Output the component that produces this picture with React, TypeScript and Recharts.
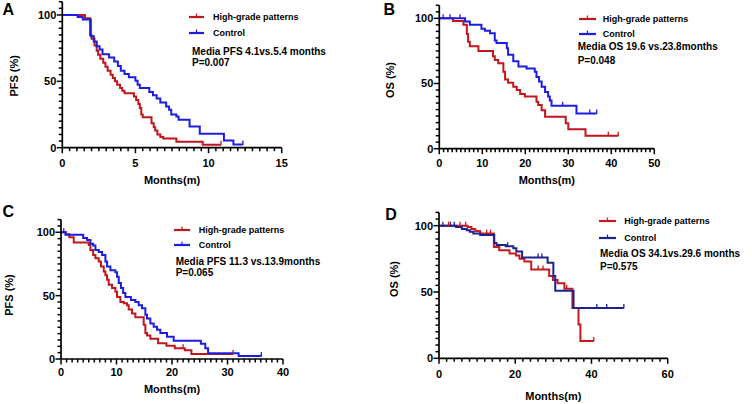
import React from 'react';
import { LineChart, Line, XAxis, YAxis, Legend } from 'recharts';

const W = 752;
const H = 404;
const FONT = '"Liberation Sans", Arial, Helvetica, sans-serif';

// ---------- DATA ----------
const seriesNames = ['High-grade patterns', 'Control'];
const panelLetters = ['A', 'B', 'C', 'D'];
const yTitles = ['PFS (%)', 'OS (%)', 'PFS (%)', 'OS (%)'];
const xTitle = 'Months(m)';
const medianLines = [
  'Media PFS 4.1vs.5.4 months',
  'Media OS 19.6 vs.23.8months',
  'Media PFS 11.3 vs.13.9months',
  'Media OS 34.1vs.29.6 months',
];
const pValues = ['P=0.007', 'P=0.048', 'P=0.065', 'P=0.575'];

const yMajorTicks = [0, 50, 100];
const aXTicks = [0, 5, 10, 15];
const bXTicks = [0, 10, 20, 30, 40, 50];
const cXTicks = [0, 10, 20, 30, 40];
const dXTicks = [0, 20, 40, 60];

// Panel A (PFS)
const aHighT = [0, 1.55, 1.9, 2.0, 2.2, 2.35, 2.45, 2.6, 2.8, 2.95, 3.1, 3.3, 3.45, 3.6, 3.75, 3.95, 4.1, 4.25, 4.9, 5.05, 5.2, 5.3, 5.4, 5.5, 6.1, 6.25, 6.35, 6.5, 6.7, 6.9, 7.8, 9.6];
const aHighS = [100, 97.5, 85, 82, 77, 73, 70, 67, 64, 61, 58, 55, 52.5, 50, 47.5, 45, 43, 41, 38.5, 36, 33, 30, 25, 23, 18.5, 15.5, 13, 10, 8, 7, 4.5, 2.3];
const aHighCens = [10.85];
const aCtrlT = [0, 1.05, 1.4, 1.95, 2.15, 2.35, 2.55, 2.75, 3.2, 3.55, 3.8, 4.0, 4.25, 4.55, 5.0, 5.15, 5.3, 5.95, 6.2, 6.45, 6.7, 7.1, 7.3, 7.45, 7.8, 7.95, 8.7, 9.4, 11.05, 11.7];
const aCtrlS = [100, 98.5, 96.5, 84, 80, 76.5, 74, 70.5, 68, 65, 61.5, 58, 55.5, 53, 50.5, 47.5, 45, 42, 39.5, 37, 34, 31, 28.5, 25, 23.5, 21, 16, 10.5, 5.5, 2.5];
const aCtrlCens = [12.35];

// Panel B (OS)
const bHighT = [0, 3.2, 5.6, 6.4, 6.7, 7.1, 9.1, 12.5, 12.9, 13.7, 14.9, 15.3, 16.0, 17.2, 18.0, 18.8, 19.9, 22.6, 23.0, 23.8, 24.6, 29.4, 30.0, 34.0];
const bHighS = [100, 98, 95, 88, 82, 78.5, 75, 71, 68, 65.5, 59, 53, 50.5, 47.5, 45, 42, 40, 36, 33.5, 29.5, 24.5, 19.5, 15, 10];
const bHighCens = [39.3, 41.6];
const bCtrlT = [0, 6.0, 7.1, 9.8, 10.6, 11.8, 12.9, 13.3, 15.7, 16.0, 17.2, 18.4, 20.3, 22.2, 22.6, 23.2, 23.8, 24.6, 25.3, 25.7, 26.1, 31.9];
const bCtrlS = [100, 97.5, 95, 92, 90.5, 88.5, 83, 81, 77, 72, 67, 63, 61.5, 59, 55, 51.5, 47.5, 43.5, 40, 37, 33, 27];
const bCtrlCens = [0.9, 2.5, 4.8, 28.7, 35.0, 36.6];

// Panel C (PFS)
const cHighT = [0, 0.9, 1.5, 2.3, 5.0, 5.3, 5.8, 6.2, 6.8, 7.2, 7.7, 8.0, 8.3, 8.6, 9.2, 9.8, 10.1, 10.7, 11.3, 11.9, 12.2, 12.8, 13.4, 14.9, 15.2, 15.5, 16.1, 17.5, 19.0, 20.5, 22.3, 23.5];
const cHighS = [100, 98.5, 96, 92, 90, 86, 82, 79.5, 77, 73, 69, 66, 62.5, 58.5, 56, 53, 49, 45, 44, 42.5, 39, 36, 33, 27, 20.5, 18.5, 16, 12.5, 10.5, 8.5, 7, 4];
const cHighCens = [22.0, 31.0];
const cCtrlT = [0, 0.8, 4.0, 4.7, 5.3, 5.8, 6.2, 6.8, 7.4, 8.0, 8.3, 8.9, 9.8, 10.1, 10.4, 10.8, 11.2, 11.6, 12.6, 13.4, 14.0, 14.6, 15.2, 15.5, 16.1, 16.7, 17.3, 17.9, 19.1, 20.3, 25.2, 26.0, 26.5, 32.0];
const cCtrlS = [100, 98, 95.5, 94, 91, 89.5, 86, 84.5, 82, 77, 73, 70, 68.5, 65, 60, 56, 52, 49, 46.5, 45, 42.5, 40, 35, 32, 28, 25.5, 23, 20.5, 17.5, 14.5, 12, 8.5, 4.5, 2.3];
const cCtrlCens = [0.5, 36.1];

// Panel D (OS)
const dHighT = [0, 7.5, 8.5, 9.5, 10.8, 14.4, 15.8, 18.5, 20.2, 21.1, 22.4, 24.2, 28.9, 29.9, 31.1, 32.9, 35.0, 36.6, 37.1];
const dHighS = [100, 99, 97.5, 96, 94, 84, 81.5, 79, 77.5, 75, 73, 67, 62, 59, 56.5, 52.5, 38, 25.5, 13];
const dHighCens = [2.5, 5.5, 7.0, 12.5, 13.5, 26.0, 27.3, 33.5, 40.6];
const dCtrlT = [0, 4.5, 6.0, 7.3, 8.1, 9.0, 10.8, 14.5, 15.1, 17.5, 19.5, 20.3, 21.8, 28.5, 30.0, 30.5, 35.3];
const dCtrlS = [100, 99, 97.5, 96.5, 95.5, 94, 93, 87, 85.5, 84.5, 83, 80.5, 76, 72, 62, 51, 38];
const dCtrlCens = [1.0, 3.0, 4.0, 18.0, 26.0, 27.0, 41.4, 44.0, 48.5];

// ---------- helpers ----------
type Pt = { t: number; s: number; c?: boolean };
function buildCurve(times: number[], surv: number[], cens: number[]): Pt[] {
  const pts: Pt[] = times.map((t, i) => ({ t, s: surv[i] }));
  cens.forEach((ct) => {
    let s = surv[0];
    for (let i = 0; i < times.length; i++) if (times[i] <= ct) s = surv[i];
    pts.push({ t: ct, s, c: true });
  });
  pts.sort((a, b) => a.t - b.t || (a.c ? 1 : 0) - (b.c ? 1 : 0));
  return pts;
}
function range(max: number, step: number): number[] {
  const out: number[] = [];
  const n = Math.round(max / step);
  for (let i = 0; i <= n; i++) out.push(Math.round(i * step * 1000) / 1000);
  return out;
}
const isIn = (arr: number[], v: number) => arr.some((m) => Math.abs(m - v) < 1e-6);

// ---------- layout ----------
type Cfg = {
  x0: number; x1: number; yTop: number; yBot: number;
  xMax: number; xMinor: number; xMajor: number[];
  xLabelY: number; xTitleY: number;
  yTitleX: number; yTitleY: number;
  letterX: number; letterY: number;
  legLineX: number; legLineW: number; legTextX: number; row1Y: number; row2Y: number;
  medX: number; med1Y: number; med2Y: number;
  highColor: string; ctrlColor: string;
};

const RED = '#c0161c';
const BLUE = '#1d1de0';
const NAVY = '#1c238f';
const RED_D = '#c8191e';

const cfgs: Cfg[] = [
  { x0: 62.3, x1: 281.7, yTop: 1.7, yBot: 147.7, xMax: 15, xMinor: 0.5, xMajor: aXTicks,
    xLabelY: 163.3, xTitleY: 179.8, yTitleX: 14.2, yTitleY: 75.8, letterX: 8.3, letterY: 9.5,
    legLineX: 189, legLineW: 15, legTextX: 213, row1Y: 16.7, row2Y: 33, medX: 192, med1Y: 52, med2Y: 63,
    highColor: RED, ctrlColor: BLUE },
  { x0: 439.3, x1: 654.3, yTop: 5.3, yBot: 148.7, xMax: 50, xMinor: 1, xMajor: bXTicks,
    xLabelY: 163.3, xTitleY: 180.3, yTitleX: 389.8, yTitleY: 80, letterX: 389.3, letterY: 9.2,
    legLineX: 578.7, legLineW: 17, legTextX: 602.7, row1Y: 19, row2Y: 33.7, medX: 577.7, med1Y: 47.3, med2Y: 60.7,
    highColor: RED, ctrlColor: BLUE },
  { x0: 61, x1: 283, yTop: 219.6, yBot: 359, xMax: 40, xMinor: 1, xMajor: cXTicks,
    xLabelY: 372.3, xTitleY: 388.8, yTitleX: 9, yTitleY: 295, letterX: 8.3, letterY: 211.7,
    legLineX: 174, legLineW: 16, legTextX: 198.7, row1Y: 230, row2Y: 245, medX: 175.7, med1Y: 262, med2Y: 273.3,
    highColor: RED, ctrlColor: BLUE },
  { x0: 439, x1: 667.7, yTop: 212.4, yBot: 358.3, xMax: 60, xMinor: 2, xMajor: dXTicks,
    xLabelY: 374, xTitleY: 395.8, yTitleX: 393.7, yTitleY: 279, letterX: 391, letterY: 214,
    legLineX: 599.3, legLineW: 17, legTextX: 624.3, row1Y: 220.7, row2Y: 238.3, medX: 600, med1Y: 254, med2Y: 266.7,
    highColor: RED_D, ctrlColor: NAVY },
];

const curves = [
  [buildCurve(aHighT, aHighS, aHighCens), buildCurve(aCtrlT, aCtrlS, aCtrlCens)],
  [buildCurve(bHighT, bHighS, bHighCens), buildCurve(bCtrlT, bCtrlS, bCtrlCens)],
  [buildCurve(cHighT, cHighS, cHighCens), buildCurve(cCtrlT, cCtrlS, cCtrlCens)],
  [buildCurve(dHighT, dHighS, dHighCens), buildCurve(dCtrlT, dCtrlS, dCtrlCens)],
];

const TICK_FS = 11;
const TITLE_FS = 11;
const MINOR_LEN = 3.5;
const MAJOR_LEN = 5.5;
const TICK_COLOR = '#000';

const makeXTick = (cfg: Cfg) => (props: any) => {
  const { x, payload } = props;
  const v = payload.value;
  const major = isIn(cfg.xMajor, v);
  return (
    <g>
      <line x1={x} x2={x} y1={cfg.yBot} y2={cfg.yBot + (major ? MAJOR_LEN : MINOR_LEN)} stroke={TICK_COLOR} strokeWidth={1.5} />
      {major && (
        <text x={x} y={cfg.xLabelY + 3.9} textAnchor="middle" fontSize={TICK_FS} fontWeight="bold" fontFamily={FONT} fill="#000">
          {v}
        </text>
      )}
    </g>
  );
};

const makeYTick = (cfg: Cfg) => (props: any) => {
  const { y, payload } = props;
  const v = payload.value;
  const major = isIn(yMajorTicks, v);
  return (
    <g>
      <line x1={cfg.x0 - (major ? MAJOR_LEN : MINOR_LEN)} x2={cfg.x0} y1={y} y2={y} stroke={TICK_COLOR} strokeWidth={1.5} />
      {major && (
        <text x={cfg.x0 - 6} y={y + 3.9} textAnchor="end" fontSize={TICK_FS} fontWeight="bold" fontFamily={FONT} fill="#000">
          {v}
        </text>
      )}
    </g>
  );
};

const censorDot = (color: string) => (p: any) => {
  const { cx, cy, payload, index } = p;
  if (!payload || !payload.c || cx == null || cy == null) return <g key={`d${index}`} />;
  return <line key={`d${index}`} x1={cx} x2={cx} y1={cy - 4} y2={cy + 0.5} stroke={color} strokeWidth={1.3} />;
};

const makeLegend = (cfg: Cfg, idx: number) => (props: any) => {
  const payload: any[] = props.payload || [];
  const colorOf = (name: string, fb: string) => {
    const e = payload.find((p) => p.value === name);
    return e && e.color ? e.color : fb;
  };
  const rows = [
    { name: seriesNames[0], color: colorOf(seriesNames[0], cfg.highColor), y: cfg.row1Y },
    { name: seriesNames[1], color: colorOf(seriesNames[1], cfg.ctrlColor), y: cfg.row2Y },
  ];
  const txt: React.CSSProperties = {
    position: 'absolute', whiteSpace: 'nowrap', lineHeight: 1, fontFamily: FONT, fontWeight: 'bold', color: '#000',
    transform: 'translateY(-50%)',
  };
  return (
    <div style={{ position: 'relative', width: 0, height: 0 }}>
      {rows.map((r) => (
        <React.Fragment key={r.name}>
          <svg style={{ position: 'absolute', left: cfg.legLineX, top: r.y - 5 }} width={cfg.legLineW} height={8}>
            <line x1={0} x2={cfg.legLineW} y1={5} y2={5} stroke={r.color} strokeWidth={2.2} />
            <line x1={cfg.legLineW / 2} x2={cfg.legLineW / 2} y1={1.5} y2={5} stroke={r.color} strokeWidth={1.2} />
          </svg>
          <div style={{ ...txt, left: cfg.legTextX, top: r.y, fontSize: 9 }}>{r.name}</div>
        </React.Fragment>
      ))}
      <div style={{ ...txt, left: cfg.medX, top: cfg.med1Y, fontSize: 10 }}>{medianLines[idx]}</div>
      <div style={{ ...txt, left: cfg.medX, top: cfg.med2Y, fontSize: 10 }}>{pValues[idx]}</div>
    </div>
  );
};

const YW = 30;
const XH = 30;

function Panel({ idx }: { idx: number }) {
  const cfg = cfgs[idx];
  const [high, ctrl] = curves[idx];
  const margin = { top: cfg.yTop, bottom: H - cfg.yBot - XH, left: cfg.x0 - YW, right: W - cfg.x1 };
  return (
    <div style={{ position: 'absolute', left: 0, top: 0, width: W, height: H }}>
      <LineChart width={W} height={H} margin={margin}>
        <XAxis
          type="number"
          dataKey="t"
          domain={[0, cfg.xMax]}
          ticks={range(cfg.xMax, cfg.xMinor)}
          interval={0}
          height={XH}
          tickSize={0}
          tickMargin={0}
          tickLine={false}
          axisLine={{ stroke: '#000', strokeWidth: 1.7 }}
          tick={makeXTick(cfg)}
          label={{
            content: () => (
              <text x={(cfg.x0 + cfg.x1) / 2} y={cfg.xTitleY + 4} textAnchor="middle" fontSize={TITLE_FS} fontWeight="bold" fontFamily={FONT} fill="#000">
                {xTitle}
              </text>
            ),
          }}
        />
        <YAxis
          type="number"
          domain={[0, 110]}
          ticks={range(110, 5)}
          interval={0}
          width={YW}
          tickSize={0}
          tickMargin={0}
          tickLine={false}
          axisLine={{ stroke: '#000', strokeWidth: 1.7 }}
          tick={makeYTick(cfg)}
          label={{
            content: () => (
              <g>
                <text
                  x={cfg.yTitleX}
                  y={cfg.yTitleY}
                  dy="0.36em"
                  transform={`rotate(-90, ${cfg.yTitleX}, ${cfg.yTitleY})`}
                  textAnchor="middle"
                  fontSize={TITLE_FS}
                  fontWeight="bold"
                  fontFamily={FONT}
                  fill="#000"
                >
                  {yTitles[idx]}
                </text>
                <text x={cfg.letterX} y={cfg.letterY} dy="0.36em" textAnchor="middle" fontSize={16} fontWeight="bold" fontFamily={FONT} fill="#000">
                  {panelLetters[idx]}
                </text>
              </g>
            ),
          }}
        />
        <Legend
          layout="vertical"
          align="center"
          verticalAlign="middle"
          wrapperStyle={{ left: 0, top: 0, width: 0, height: 0, overflow: 'visible' }}
          content={makeLegend(cfg, idx)}
        />
        <Line
          data={high}
          dataKey="s"
          name={seriesNames[0]}
          type="stepAfter"
          stroke={cfg.highColor}
          strokeWidth={2}
          dot={censorDot(cfg.highColor)}
          activeDot={false}
          isAnimationActive={false}
        />
        <Line
          data={ctrl}
          dataKey="s"
          name={seriesNames[1]}
          type="stepAfter"
          stroke={cfg.ctrlColor}
          strokeWidth={2}
          dot={censorDot(cfg.ctrlColor)}
          activeDot={false}
          isAnimationActive={false}
        />
      </LineChart>
    </div>
  );
}

export default function App() {
  return (
    <div style={{ position: 'absolute', left: 0, top: 0, width: W, height: H, background: '#fff', overflow: 'hidden' }}>
      {[0, 1, 2, 3].map((i) => (
        <Panel key={i} idx={i} />
      ))}
    </div>
  );
}
